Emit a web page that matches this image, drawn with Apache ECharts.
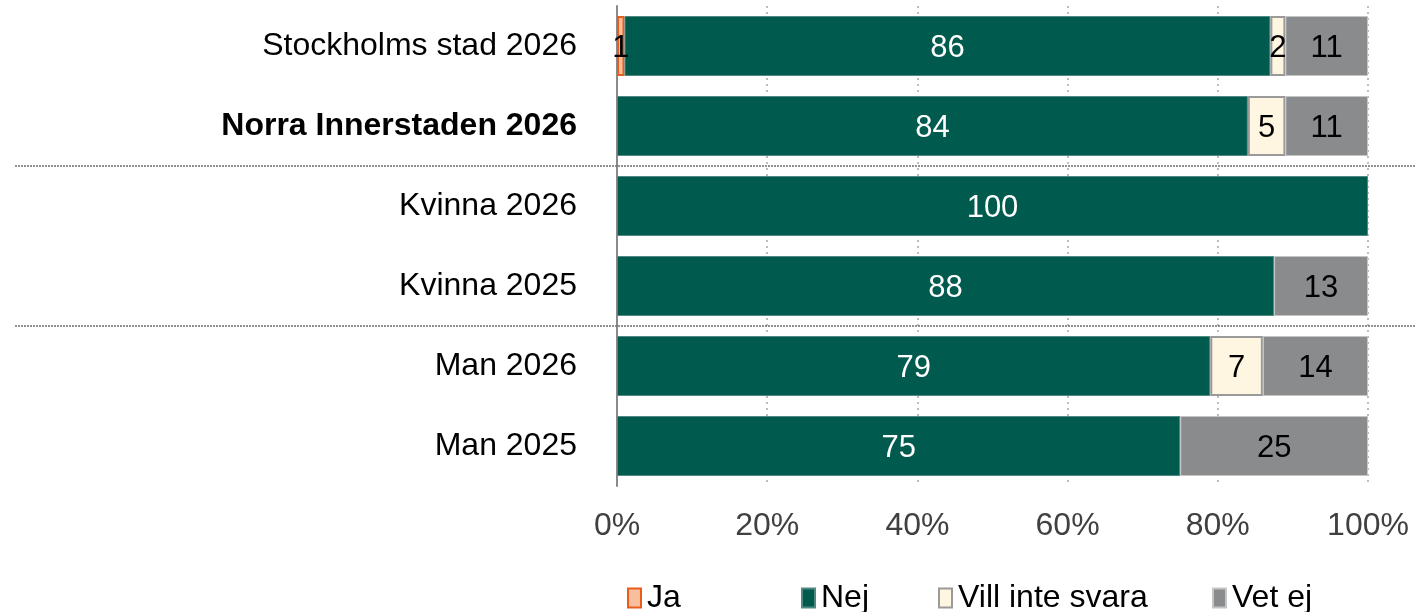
<!DOCTYPE html>
<html>
<head>
<meta charset="utf-8">
<script src="https://cdn.jsdelivr.net/npm/echarts@6/dist/echarts.min.js"></script>
<style>
  html, body { margin: 0; padding: 0; background: #fff; }
  #chart { width: 1423px; height: 612px; }
</style>
</head>
<body>
<div id="chart"></div>
<script>
// Survey answers per group, percent of respondents
const categories = ['Stockholms stad 2026', 'Norra Innerstaden 2026', 'Kvinna 2026', 'Kvinna 2025', 'Man 2026', 'Man 2025'];
const boldCategory = 'Norra Innerstaden 2026';
const seriesNames = ['Ja', 'Nej', 'Vill inte svara', 'Vet ej'];
const ja    = [1, null, null, null, null, null];
const nej   = [86, 84, 100, 87.5, 79, 75];
const vill  = [2, 5, null, null, 7, null];
const vetEj = [11, 11, null, 12.5, 14, 25];
const xTicks = [0, 20, 40, 60, 80, 100];

const FONT = "'Liberation Sans', Arial, sans-serif";
const FS = 32;
const FS_BAR = 31;

const chart = echarts.init(document.getElementById('chart'), null, { renderer: 'canvas' });

const styles = [
  { color: '#F8BE9E', borderColor: '#E85D1A', borderWidth: 2, label: '#000' },
  { color: '#005A4E', borderColor: '#4F8A82', borderWidth: 1, label: '#fff' },
  { color: '#FFF6E1', borderColor: '#9A9A9A', borderWidth: 2, label: '#000' },
  { color: '#898B8D', borderColor: '#C4C5C6', borderWidth: 1, label: '#000' }
];
const values = [ja, nej, vill, vetEj];

const series = seriesNames.map((name, i) => ({
  name,
  type: 'bar',
  stack: 'total',
  barWidth: 60,
  data: values[i],
  itemStyle: {
    color: styles[i].color,
    borderColor: styles[i].borderColor,
    borderWidth: styles[i].borderWidth
  },
  label: {
    show: true,
    position: 'inside',
    offset: [0, 2],
    color: styles[i].label,
    fontFamily: FONT,
    fontSize: FS_BAR,
    formatter: p => (p.value == null ? '' : String(Math.round(p.value)))
  },
  emphasis: { disabled: true }
}));

// one legend block per item so the entries sit at their own slots
const legendLeft = [622, 796, 933, 1207];
const legends = seriesNames.map((name, i) => ({
  data: [{ name, icon: 'rect' }],
  left: legendLeft[i],
  top: 577,
  itemWidth: 13,
  itemHeight: 19,
  itemGap: 0,
  textStyle: { fontFamily: FONT, fontSize: FS, color: '#000', padding: [0, 0, 0, 1] },
  selectedMode: false
}));

chart.setOption({
  animation: false,
  textStyle: { fontFamily: FONT },
  grid: { left: 617, right: 55, top: 6, height: 480, containLabel: false },
  legend: legends,
  xAxis: {
    type: 'value',
    min: xTicks[0],
    max: xTicks[xTicks.length - 1],
    interval: xTicks[1] - xTicks[0],
    axisLine: { show: false },
    axisTick: { show: false },
    axisLabel: {
      formatter: '{value}%',
      fontFamily: FONT,
      fontSize: FS,
      color: '#404040',
      margin: 24
    },
    splitLine: {
      show: true,
      lineStyle: { color: '#BDBDBD', width: 2, type: [2, 4] }
    }
  },
  yAxis: {
    type: 'category',
    inverse: true,
    data: categories.map(c => c === boldCategory
      ? { value: c, textStyle: { fontWeight: 'bold' } }
      : c),
    axisLine: { show: true, lineStyle: { color: '#8A8A8A', width: 2 } },
    axisTick: { show: false },
    axisLabel: {
      fontFamily: FONT,
      fontSize: FS,
      color: '#000',
      margin: 40,
      padding: [4, 0, 0, 0]
    }
  },
  series
});

// dotted separators between the area, women and men groups
function separatorY(a, b) {
  const ya = chart.convertToPixel({ yAxisIndex: 0 }, categories[a]);
  const yb = chart.convertToPixel({ yAxisIndex: 0 }, categories[b]);
  return Math.round((ya + yb) / 2);
}
const groupBreaks = [[1, 2], [3, 4]];
chart.setOption({
  graphic: groupBreaks.map(([a, b]) => ({
    type: 'line',
    z: 10,
    shape: { x1: 15, y1: separatorY(a, b), x2: 1415, y2: separatorY(a, b) },
    style: { stroke: '#6E6E6E', lineWidth: 1.5, lineDash: [2, 1] }
  }))
});
</script>
</body>
</html>
